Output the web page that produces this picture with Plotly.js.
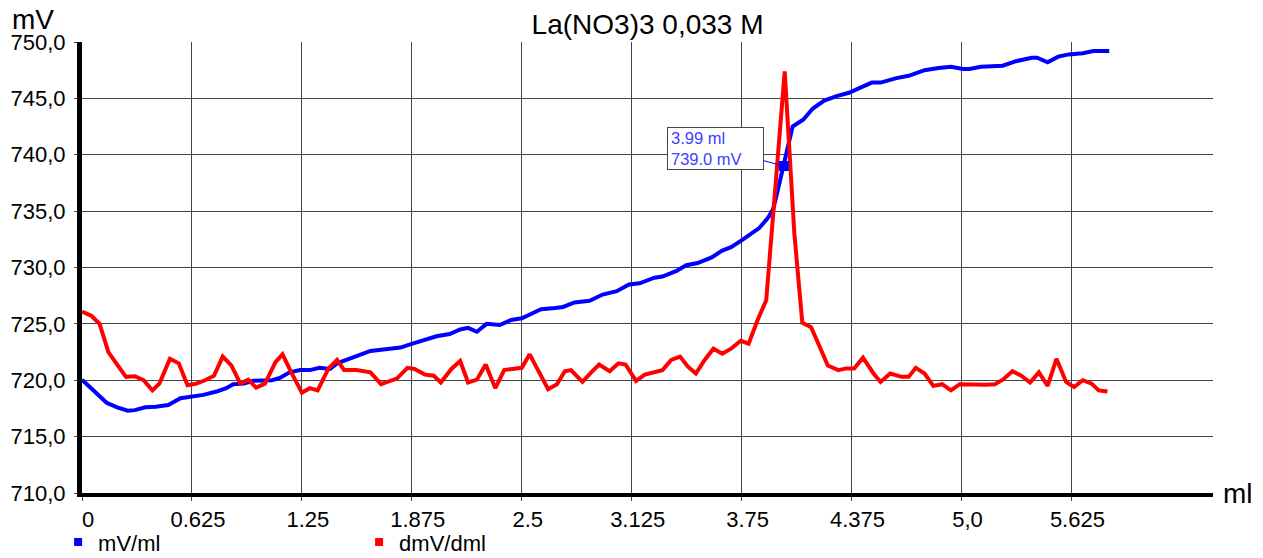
<!DOCTYPE html>
<html>
<head>
<meta charset="utf-8">
<script src="https://cdn.plot.ly/plotly-3.0.1.min.js"></script>
<style>html,body{margin:0;padding:0;background:#fff;}#chart{width:1263px;height:558px;}</style>
</head>
<body>
<div id="chart"></div>
<script>
const chartTitle = "La(NO3)3 0,033 M";
const seriesNames = ["mV/ml", "dmV/dml"];

const mvX = [0,0.07,0.14,0.20,0.26,0.30,0.36,0.42,0.49,0.56,0.62,0.69,0.765,0.82,0.86,0.92,0.975,1.08,1.125,1.18,1.24,1.295,1.35,1.41,1.45,1.50,1.56,1.64,1.75,1.81,1.87,1.94,2.015,2.09,2.15,2.195,2.245,2.30,2.375,2.44,2.50,2.555,2.61,2.69,2.735,2.80,2.885,2.96,3.04,3.11,3.17,3.255,3.30,3.38,3.435,3.50,3.58,3.64,3.69,3.75,3.80,3.85,3.90,3.93,3.955,3.985,4.01,4.04,4.10,4.155,4.22,4.29,4.36,4.42,4.49,4.54,4.63,4.70,4.79,4.87,4.94,5.01,5.045,5.11,5.18,5.235,5.31,5.40,5.43,5.49,5.55,5.61,5.69,5.75,5.84];
const mvY = [720.05,719.0,718.0,717.6,717.3,717.35,717.6,717.65,717.8,718.4,718.5,718.7,719.0,719.3,719.65,719.7,719.95,720.0,720.2,720.7,720.9,720.9,721.1,721.0,721.5,721.8,722.1,722.6,722.8,722.9,723.2,723.5,723.9,724.1,724.5,724.65,724.3,725.0,724.9,725.35,725.5,725.9,726.3,726.4,726.5,726.9,727.05,727.6,727.9,728.5,728.6,729.1,729.2,729.7,730.2,730.4,730.9,731.5,731.8,732.4,732.9,733.5,734.4,735.2,736.8,738.8,740.8,742.5,743.1,744.1,744.8,745.2,745.5,745.9,746.4,746.4,746.8,747.0,747.5,747.7,747.8,747.6,747.6,747.8,747.9,747.9,748.3,748.6,748.6,748.2,748.7,748.9,749.0,749.2,749.2];

const dmvX = [0,0.055,0.10,0.15,0.19,0.25,0.30,0.35,0.40,0.44,0.50,0.55,0.60,0.65,0.70,0.75,0.80,0.85,0.90,0.945,0.99,1.04,1.10,1.14,1.19,1.25,1.295,1.34,1.40,1.45,1.49,1.56,1.64,1.70,1.79,1.85,1.89,1.95,2.00,2.04,2.10,2.15,2.195,2.245,2.295,2.35,2.40,2.45,2.50,2.545,2.59,2.65,2.70,2.745,2.78,2.845,2.895,2.94,3.00,3.05,3.09,3.15,3.20,3.245,3.30,3.35,3.40,3.445,3.49,3.54,3.59,3.64,3.69,3.745,3.79,3.84,3.89,3.995,4.05,4.095,4.145,4.19,4.24,4.30,4.345,4.39,4.44,4.50,4.54,4.595,4.66,4.70,4.74,4.79,4.84,4.89,4.94,4.99,5.045,5.14,5.19,5.235,5.29,5.34,5.39,5.44,5.49,5.54,5.595,5.64,5.69,5.74,5.78,5.83];
const dmvY = [726.1,725.7,725.0,722.5,721.6,720.3,720.35,720.0,719.1,719.7,721.9,721.5,719.55,719.7,720.0,720.4,722.1,721.3,719.7,720.05,719.35,719.7,721.6,722.3,720.7,718.9,719.3,719.1,721.0,721.8,720.9,720.9,720.7,719.65,720.15,721.1,721.0,720.5,720.4,719.8,721.0,721.7,719.8,720.05,721.4,719.3,720.9,721.0,721.1,722.3,720.9,719.2,719.65,720.8,720.9,719.85,720.7,721.4,720.8,721.5,721.4,719.95,720.5,720.7,720.9,721.8,722.1,721.2,720.6,721.8,722.8,722.35,722.8,723.5,723.25,725.3,727.1,747.4,733.0,725.1,724.7,723.1,721.3,720.9,721.05,721.05,722.0,720.6,719.85,720.6,720.3,720.3,721.1,720.6,719.5,719.65,719.1,719.65,719.6,719.6,719.65,720.05,720.8,720.4,719.8,720.7,719.5,721.9,719.85,719.4,720.0,719.7,719.1,719.0];

const cursorX = [3.99];
const cursorY = [739.0];
const cursorText = "3.99 ml<br>739.0 mV";

const xTickVals = [0,0.625,1.25,1.875,2.5,3.125,3.75,4.375,5.0,5.625];
const xTickText = ["0","0.625","1.25","1.875","2.5","3.125","3.75","4.375","5,0","5.625"];
const yTickVals = [710,715,720,725,730,735,740,745,750];
const yTickText = ["710,0","715,0","720,0","725,0","730,0","735,0","740,0","745,0","750,0"];
const yUnit = "mV";
const xUnit = "ml";

const BLUE = "#0000ff", RED = "#ff0000";
const FONT = "Liberation Sans, Arial, sans-serif";

const traces = [
  {x: mvX, y: mvY, type: "scatter", mode: "lines", line: {color: BLUE, width: 4}, showlegend: false, hoverinfo: "skip"},
  {x: dmvX, y: dmvY, type: "scatter", mode: "lines", line: {color: RED, width: 4}, showlegend: false, hoverinfo: "skip"},
  {x: cursorX, y: cursorY, type: "scatter", mode: "markers", marker: {symbol: "square", size: 10, color: BLUE}, showlegend: false, hoverinfo: "skip"},
  {x: [null], y: [null], type: "scatter", mode: "markers", name: seriesNames[0], marker: {symbol: "square", size: 8, color: BLUE}},
  {x: [null], y: [null], type: "scatter", mode: "markers", name: seriesNames[1], marker: {symbol: "square", size: 8, color: RED}}
];

const layout = {
  width: 1263, height: 558,
  margin: {l: 82, r: 50, t: 42, b: 65, autoexpand: false},
  paper_bgcolor: "#fff", plot_bgcolor: "#fff",
  font: {family: FONT, size: 22, color: "#000"},
  title: {text: chartTitle, font: {size: 28, family: FONT, color: "#000"}, x: 0.5127, xref: "container", xanchor: "center", y: 0.957, yref: "container", yanchor: "middle"},
  showlegend: true,
  legend: {orientation: "h", x: 0.046, xref: "container", xanchor: "left", y: 0.066, yref: "container", yanchor: "top", font: {size: 22, family: FONT}, entrywidth: 256, entrywidthmode: "pixels", bgcolor: "rgba(0,0,0,0)"},
  xaxis: {
    range: [0, 6.43], tickvals: xTickVals, ticktext: xTickText,
    showgrid: true, gridcolor: "#444", gridwidth: 1,
    showline: true, linecolor: "#000", linewidth: 4,
    ticks: "outside", ticklen: 4, tickcolor: "#444", tickwidth: 1,
    ticklabelshift: 6,
    zeroline: false, fixedrange: true, tickfont: {size: 22, family: FONT, color: "#000"}
  },
  yaxis: {
    range: [710, 750], tickvals: yTickVals, ticktext: yTickText,
    showgrid: true, gridcolor: "#444", gridwidth: 1,
    showline: true, linecolor: "#000", linewidth: 5,
    ticks: "outside", ticklen: 3, tickcolor: "#444", tickwidth: 1,
    ticklabelstandoff: 4,
    zeroline: false, fixedrange: true, tickfont: {size: 22, family: FONT, color: "#000"}
  },
  annotations: [
    {x: cursorX[0], y: cursorY[0], xref: "x", yref: "y", text: cursorText, showarrow: true, arrowhead: 0, arrowcolor: BLUE, arrowwidth: 1, ax: -68, ay: -18,
     font: {size: 16.5, family: FONT, color: "#4040ff"}, align: "left", width: 89, height: 35, borderpad: 3, bordercolor: "#444", borderwidth: 1, bgcolor: "#fff"},
    {text: yUnit, xref: "paper", yref: "paper", x: -0.0637, y: 1.05, xanchor: "left", yanchor: "middle", showarrow: false, font: {size: 28, family: FONT, color: "#000"}},
    {text: xUnit, xref: "paper", yref: "paper", x: 1.0071, y: 0, xanchor: "left", yanchor: "middle", showarrow: false, font: {size: 28, family: FONT, color: "#000"}}
  ]
};

Plotly.newPlot("chart", traces, layout, {staticPlot: true, displayModeBar: false});
</script>
</body>
</html>
